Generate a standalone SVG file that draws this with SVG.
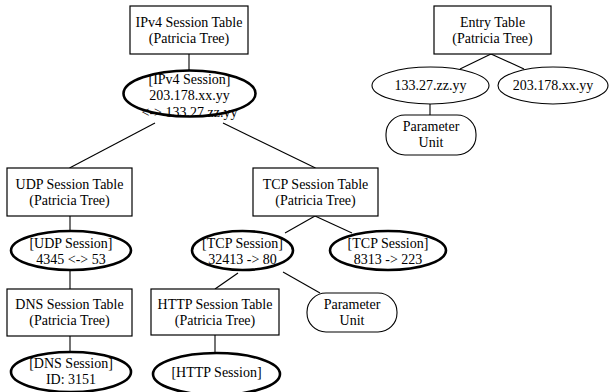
<svg xmlns="http://www.w3.org/2000/svg" width="609" height="392" viewBox="0 0 609 392">
  <style>
    text { font-family: "Liberation Serif", "Times New Roman", serif; font-size: 14px; fill: #000; text-anchor: middle; }
    .box { fill: #fff; stroke: #000; stroke-width: 1.2; }
    .sess { fill: #fff; stroke: #000; stroke-width: 2.6; }
    .key { fill: #fff; stroke: #000; stroke-width: 1.1; }
    .unit { fill: #fff; stroke: #000; stroke-width: 1.1; }
    .edge { stroke: #000; stroke-width: 1.1; fill: none; }
  </style>
  <rect width="609" height="392" fill="#fff"/>

  <!-- tree links -->
  <g id="connectors">
    <line class="edge" x1="189" y1="54" x2="189" y2="70"/>
    <line class="edge" x1="155" y1="123" x2="69.5" y2="168"/>
    <line class="edge" x1="223" y1="123" x2="315.5" y2="168"/>
    <line class="edge" x1="70" y1="216" x2="70" y2="231"/>
    <line class="edge" x1="70" y1="270" x2="70" y2="289"/>
    <line class="edge" x1="70" y1="336" x2="70" y2="352"/>
    <line class="edge" x1="315" y1="216" x2="285" y2="233"/>
    <line class="edge" x1="315" y1="216" x2="352" y2="233"/>
    <line class="edge" x1="238" y1="273" x2="215" y2="289"/>
    <line class="edge" x1="283" y1="272" x2="320" y2="293"/>
    <line class="edge" x1="215" y1="335" x2="215" y2="353"/>
    <line class="edge" x1="491" y1="54" x2="460" y2="69"/>
    <line class="edge" x1="491" y1="54" x2="524" y2="69"/>
    <line class="edge" x1="430" y1="104" x2="430" y2="115"/>
  </g>

  <g id="ipv4-table">
    <rect class="box" x="130" y="6" width="118" height="48"/>
    <text x="189" y="27">IPv4 Session Table</text>
    <text x="189" y="43">(Patricia Tree)</text>
  </g>
  <g id="ipv4-session">
    <ellipse class="sess" cx="189.5" cy="93.5" rx="66" ry="23"/>
    <text x="189.5" y="84">[IPv4 Session]</text>
    <text x="189.5" y="100">203.178.xx.yy</text>
    <text x="189.5" y="117">&lt;-&gt; 133.27.zz.yy</text>
  </g>

  <g id="udp-table">
    <rect class="box" x="7" y="168" width="125" height="48"/>
    <text x="69.5" y="189">UDP Session Table</text>
    <text x="69.5" y="205">(Patricia Tree)</text>
  </g>
  <g id="udp-session">
    <ellipse class="sess" cx="71" cy="250.5" rx="60" ry="19.5"/>
    <text x="71" y="248">[UDP Session]</text>
    <text x="71" y="264">4345 &lt;-&gt; 53</text>
  </g>

  <g id="dns-table">
    <rect class="box" x="7" y="289" width="125" height="47"/>
    <text x="69.5" y="309">DNS Session Table</text>
    <text x="69.5" y="325">(Patricia Tree)</text>
  </g>
  <g id="dns-session">
    <ellipse class="sess" cx="71" cy="372" rx="60" ry="20"/>
    <text x="71" y="368">[DNS Session]</text>
    <text x="71" y="384">ID: 3151</text>
  </g>

  <g id="tcp-table">
    <rect class="box" x="253" y="168" width="125" height="48"/>
    <text x="315.5" y="189">TCP Session Table</text>
    <text x="315.5" y="205">(Patricia Tree)</text>
  </g>
  <g id="tcp-session-80">
    <ellipse class="sess" cx="242.5" cy="250.5" rx="50.5" ry="19.5"/>
    <text x="242.5" y="248">[TCP Session]</text>
    <text x="242.5" y="264">32413 -&gt; 80</text>
  </g>
  <g id="tcp-session-223">
    <ellipse class="sess" cx="388" cy="250.5" rx="58" ry="19.5"/>
    <text x="388" y="248">[TCP Session]</text>
    <text x="388" y="264">8313 -&gt; 223</text>
  </g>

  <g id="http-table">
    <rect class="box" x="151" y="289" width="128" height="46"/>
    <text x="215" y="309">HTTP Session Table</text>
    <text x="215" y="325">(Patricia Tree)</text>
  </g>
  <g id="tcp-param-unit">
    <rect class="unit" x="307" y="293" width="90" height="39" rx="19" ry="19"/>
    <text x="352" y="309">Parameter</text>
    <text x="352" y="325">Unit</text>
  </g>
  <g id="http-session">
    <ellipse class="sess" cx="216.5" cy="374" rx="63.5" ry="21"/>
    <text x="216.5" y="377">[HTTP Session]</text>
  </g>

  <g id="entry-table">
    <rect class="box" x="434" y="6" width="117" height="48"/>
    <text x="492.5" y="27">Entry Table</text>
    <text x="492.5" y="43">(Patricia Tree)</text>
  </g>
  <g id="entry-133">
    <ellipse class="key" cx="430.5" cy="85.5" rx="58.5" ry="18.5"/>
    <text x="430.5" y="90">133.27.zz.yy</text>
  </g>
  <g id="entry-203">
    <ellipse class="key" cx="553" cy="85.5" rx="55" ry="18.5"/>
    <text x="553" y="90">203.178.xx.yy</text>
  </g>
  <g id="entry-param-unit">
    <rect class="unit" x="386" y="115" width="90" height="40" rx="19" ry="19"/>
    <text x="431" y="131">Parameter</text>
    <text x="431" y="147">Unit</text>
  </g>
</svg>
